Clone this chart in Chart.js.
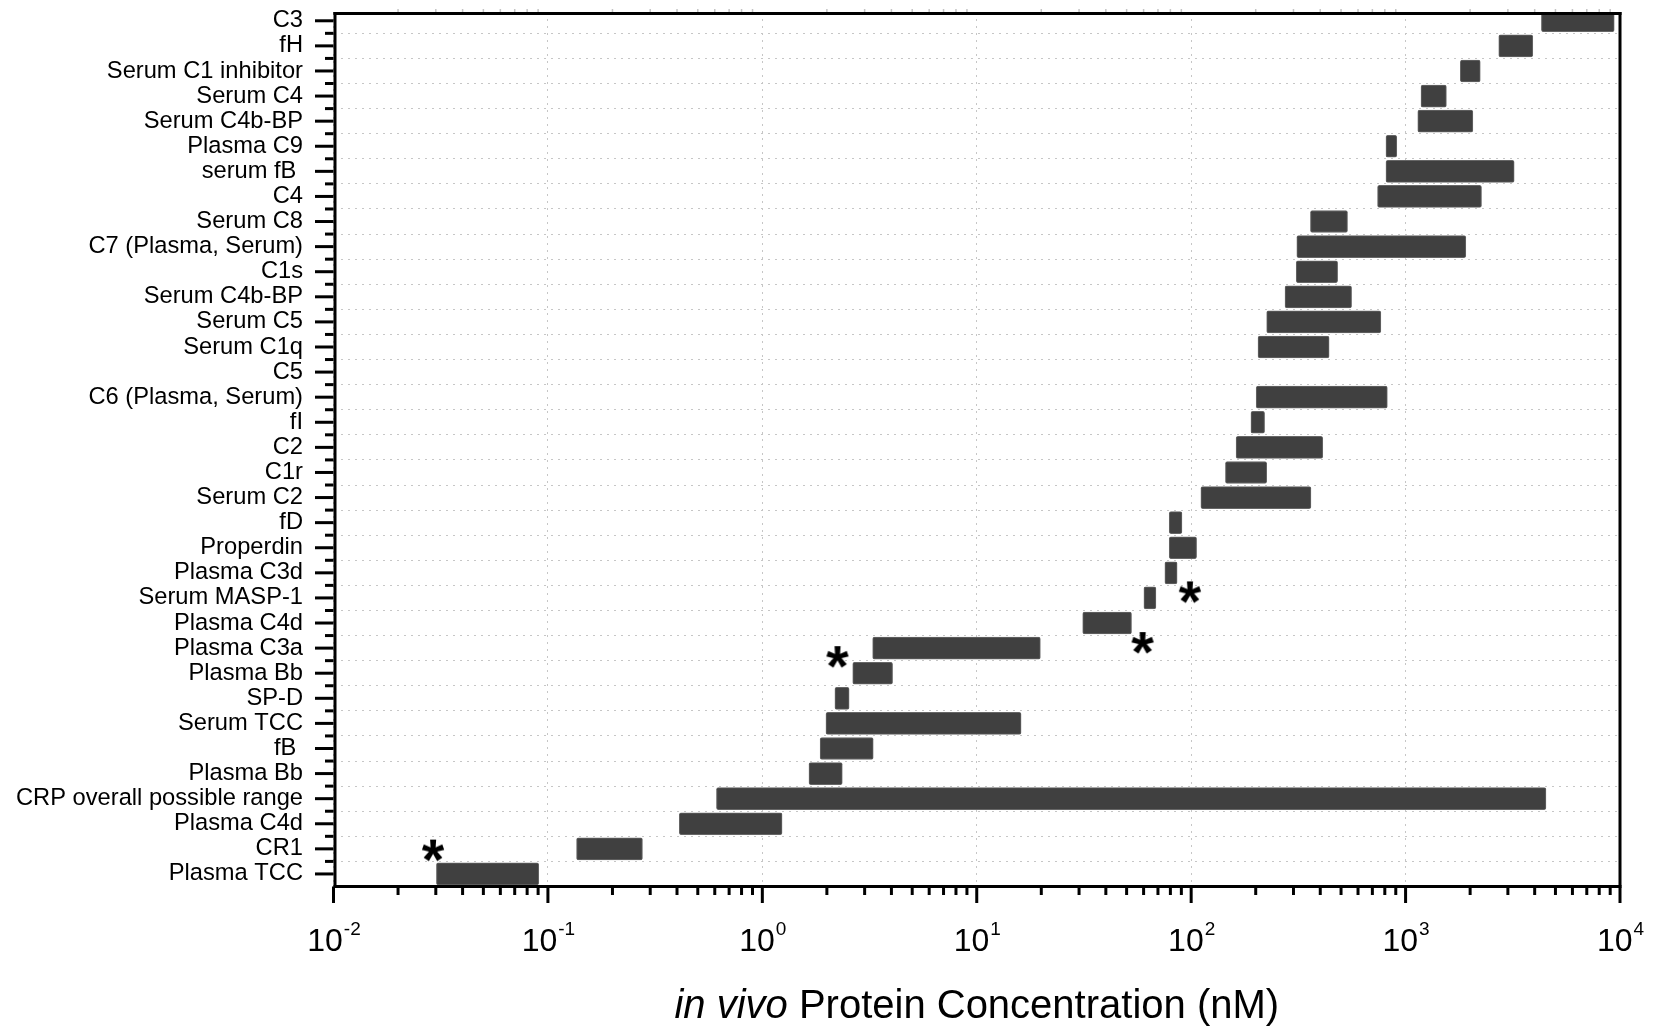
<!DOCTYPE html>
<html>
<head>
<meta charset="utf-8">
<title>in vivo Protein Concentration</title>
<script src="https://cdn.jsdelivr.net/npm/chart.js@4/dist/chart.umd.min.js"></script>
<style>
    html, body { margin: 0; padding: 0; background: #fff; }
    #wrap { width: 1655px; height: 1027px; position: relative; }
</style>
</head>
<body>
<div id="wrap"><canvas id="chart"></canvas></div>
<script>
// Rows, top to bottom (row index = position on the y axis)
const categories = [
    'C3', 'fH', 'Serum C1 inhibitor', 'Serum C4', 'Serum C4b-BP', 'Plasma C9',
    'serum fB ', 'C4', 'Serum C8', 'C7 (Plasma, Serum)', 'C1s', 'Serum C4b-BP',
    'Serum C5', 'Serum C1q', 'C5', 'C6 (Plasma, Serum)', 'fI', 'C2', 'C1r',
    'Serum C2', 'fD', 'Properdin', 'Plasma C3d', 'Serum MASP-1', 'Plasma C4d',
    'Plasma C3a', 'Plasma Bb', 'SP-D', 'Serum TCC', 'fB ', 'Plasma Bb',
    'CRP overall possible range', 'Plasma C4d', 'CR1', 'Plasma TCC',
];

// Concentration range per row (nM); null = no bar drawn
const rangeLow = [
    4300, 2720, 1800, 1180, 1140, 810,
    810, 740, 360, 311, 309, 274,
    225, 205, null, 201, 190, 162, 144.5,
    111, 79, 79, 75.4, 60.2, 31.2,
    3.27, 2.64, 2.18, 1.98, 1.86, 1.65,
    0.611, 0.41, 0.136, 0.0302,
];
const rangeHigh = [
    9400, 3920, 2230, 1550, 2060, 910,
    3210, 2260, 536, 1910, 482, 560,
    767, 440, null, 822, 220, 411, 225,
    362, 90.6, 106, 86, 68.5, 52.7,
    19.8, 4.05, 2.54, 16.1, 3.29, 2.36,
    4516, 1.236, 0.276, 0.0906,
];

// Asterisk marks: x in nM, y in row units
const starX = [0.0291, 2.24, 59.3, 98.6];
const starY = [33.07, 25.36, 24.80, 22.78];

// Log axis decades and their exponents for the tick labels
const decadeTicks = [0.01, 0.1, 1, 10, 100, 1000, 10000];
const decadeExponents = ['-2', '-1', '0', '1', '2', '3', '4'];
const minorSteps = [2, 3, 4, 5, 6, 7, 8, 9];

const axisTitleItalic = 'in vivo';
const axisTitleRest = ' Protein Concentration (nM)';

const FONT = '"Liberation Sans", Arial, Helvetica, sans-serif';

/**
 * Build an image of a bold "*" to use as the point style
 */
function makeStarImage(targetHeight) {
    const probe = document.createElement('canvas').getContext('2d');
    probe.font = 'bold 100px ' + FONT;
    const m = probe.measureText('*');
    const glyphH = m.actualBoundingBoxAscent + m.actualBoundingBoxDescent;
    const size = 100 * targetHeight / glyphH;

    const c = document.createElement('canvas');
    c.width = Math.ceil(targetHeight + 6);
    c.height = Math.ceil(targetHeight + 6);
    const g = c.getContext('2d');
    g.font = 'bold ' + size + 'px ' + FONT;
    const mm = g.measureText('*');
    g.fillStyle = '#000';
    g.textAlign = 'center';
    g.textBaseline = 'alphabetic';
    const baseline = c.height / 2 + (mm.actualBoundingBoxAscent - mm.actualBoundingBoxDescent) / 2;
    g.fillText('*', c.width / 2, baseline);
    return c;
}

function strokeLine(ctx, x1, y1, x2, y2) {
    ctx.beginPath();
    ctx.moveTo(x1, y1);
    ctx.lineTo(x2, y2);
    ctx.stroke();
}

/**
 * Origin-style frame, major/minor tick marks, superscript tick labels and axis title
 */
const frameAndTicks = {
    id: 'frameAndTicks',
    afterDraw(chart) {
        const { ctx, chartArea: ca, scales } = chart;
        const x = scales.x;
        const y = scales.y;
        ctx.save();
        ctx.strokeStyle = '#000';
        ctx.lineCap = 'butt';
        ctx.lineWidth = 3;

        // Y ticks: major on each row, minor between rows
        categories.forEach((_, i) => {
            const py = y.getPixelForValue(i);
            strokeLine(ctx, ca.left - 18.5, py, ca.left, py);
            if (i < categories.length - 1) {
                const pm = y.getPixelForValue(i + 0.5);
                strokeLine(ctx, ca.left - 8.5, pm, ca.left, pm);
            }
        });

        // X ticks: decades and 2..9 minors
        decadeTicks.forEach((d, k) => {
            const px = x.getPixelForValue(d);
            strokeLine(ctx, px, ca.bottom, px, ca.bottom + 16.5);
            if (k < decadeTicks.length - 1) {
                minorSteps.forEach(s => {
                    const pm = x.getPixelForValue(d * s);
                    ctx.strokeStyle = '#000';
                    ctx.lineWidth = 3;
                    strokeLine(ctx, pm, ca.bottom, pm, ca.bottom + 8.5);
                    // faint mirrored ticks on the top edge
                    ctx.strokeStyle = '#c4c4c4';
                    ctx.lineWidth = 1.5;
                    strokeLine(ctx, pm, ca.top, pm, ca.top - 3);
                });
            }
            ctx.strokeStyle = '#000';
            ctx.lineWidth = 3;
        });

        // Frame
        strokeLine(ctx, ca.left + 1.5, ca.top, ca.left + 1.5, ca.bottom + 1.5);
        strokeLine(ctx, ca.left, ca.bottom, ca.right + 1.5, ca.bottom);
        strokeLine(ctx, ca.right, ca.bottom, ca.right, ca.top);
        strokeLine(ctx, ca.right + 1.5, ca.top + 1.5, ca.left, ca.top + 1.5);

        // X tick labels: 10 with superscript exponent
        ctx.fillStyle = '#000';
        ctx.textAlign = 'left';
        ctx.textBaseline = 'alphabetic';
        decadeTicks.forEach((d, k) => {
            const px = x.getPixelForValue(d);
            ctx.font = '32px ' + FONT;
            const wBase = ctx.measureText('10').width;
            ctx.font = '19px ' + FONT;
            const wExp = ctx.measureText(decadeExponents[k]).width;
            const start = px - (wBase + wExp) / 2;
            ctx.font = '32px ' + FONT;
            ctx.fillText('10', start, 950.5);
            ctx.font = '19px ' + FONT;
            ctx.fillText(decadeExponents[k], start + wBase + 1, 934.5);
        });

        // Axis title: italic "in vivo" + regular rest
        ctx.font = 'italic 40px ' + FONT;
        const wItalic = ctx.measureText(axisTitleItalic).width;
        ctx.font = '40px ' + FONT;
        const wRest = ctx.measureText(axisTitleRest).width;
        const tStart = (ca.left + ca.right) / 2 - (wItalic + wRest) / 2;
        ctx.font = 'italic 40px ' + FONT;
        ctx.fillText(axisTitleItalic, tStart, 1018);
        ctx.font = '40px ' + FONT;
        ctx.fillText(axisTitleRest, tStart + wItalic, 1018);

        ctx.restore();
    }
};

// Floating bars [low, high] at each row index
const barPoints = [];
categories.forEach((_, i) => {
    if (rangeLow[i] !== null && rangeHigh[i] !== null) {
        barPoints.push({ x: [rangeLow[i], rangeHigh[i]], y: i });
    }
});
const starPoints = starX.map((v, i) => ({ x: v, y: starY[i] }));

const chart = new Chart(document.getElementById('chart'), {
    type: 'bar',
    data: {
        datasets: [
            {
                type: 'bar',
                data: barPoints,
                backgroundColor: '#404040',
                borderColor: '#666666',
                borderWidth: 1,
                borderRadius: 2,
                borderSkipped: false,
                barThickness: 22,
                clip: 0,
            },
            {
                type: 'scatter',
                indexAxis: 'x',
                data: starPoints,
                pointStyle: makeStarImage(22),
                pointRadius: 10,
                clip: false,
            }
        ]
    },
    options: {
        indexAxis: 'y',
        responsive: true,
        maintainAspectRatio: false,
        animation: false,
        events: [],
        layout: { padding: { top: 12, right: 35, left: 0, bottom: 0 } },
        plugins: {
            legend: { display: false },
            tooltip: { enabled: false },
        },
        scales: {
            x: {
                type: 'logarithmic',
                position: 'bottom',
                min: 0.01,
                max: 10000,
                afterBuildTicks: (scale) => {
                    scale.ticks = decadeTicks.map(v => ({ value: v }));
                },
                afterFit: (scale) => {
                    scale.height = 140.5;
                    scale.paddingLeft = 0;
                    scale.paddingRight = 0;
                },
                ticks: { display: false },
                grid: {
                    drawTicks: false,
                    color: '#c6c6c6',
                    lineWidth: 1,
                },
                border: { display: false, dash: [2, 5] },
            },
            y: {
                type: 'linear',
                position: 'left',
                reverse: true,
                offset: false,
                min: -0.35,
                max: 34.5,
                afterBuildTicks: (scale) => {
                    const t = [];
                    categories.forEach((_, i) => {
                        t.push({ value: i });
                        if (i < categories.length - 1) t.push({ value: i + 0.5 });
                    });
                    scale.ticks = t;
                },
                afterFit: (scale) => {
                    scale.width = 333.5;
                    scale.paddingTop = 0;
                    scale.paddingBottom = 0;
                },
                ticks: {
                    autoSkip: false,
                    padding: 30.5,
                    color: '#000',
                    font: { family: FONT, size: 23.7 },
                    callback: (v) => Number.isInteger(v) ? categories[v] : '',
                },
                grid: {
                    offset: false,
                    drawTicks: false,
                    lineWidth: 1,
                    color: (c) => (c.tick && !Number.isInteger(c.tick.value)) ? '#c6c6c6' : 'rgba(0,0,0,0)',
                },
                border: { display: false, dash: [2, 5] },
            }
        }
    },
    plugins: [frameAndTicks]
});
</script>
</body>
</html>
